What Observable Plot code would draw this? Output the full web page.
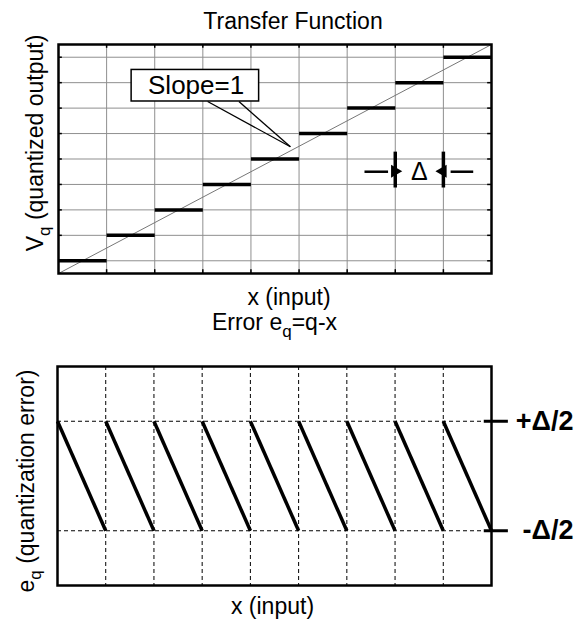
<!DOCTYPE html>
<html><head><meta charset="utf-8">
<script src="https://cdn.jsdelivr.net/npm/d3@7"></script>
<script src="https://cdn.jsdelivr.net/npm/@observablehq/plot@0.6"></script>
<style>
body{margin:0;background:#fff;}
#chart{width:576px;}
#chart svg{display:block;}
</style></head><body><div id="chart"></div>
<script>
// ---- data ----
const stepLevels = [0, 1, 2, 3, 4, 5, 6, 7, 8];      // quantized output for input interval [k, k+1]
const xGridLines = [1, 2, 3, 4, 5, 6, 7, 8];          // input grid (multiples of Δ)
const yGridLines = [0, 1, 2, 3, 4, 5, 6, 7, 8];       // output grid
const idealLine = [{x1: 0, y1: -0.5, x2: 9, y2: 8.5}]; // slope = 1 reference line
const errorLevels = [0.5, -0.5];                      // ±Δ/2
const errorLabels = ["+Δ/2", "-Δ/2"];
const slopeBox = [{x1: 1.52, x2: 4.17, y1: 6.26, y2: 7.5, cx: 2.86, cy: 6.88, label: "Slope=1"}];
const slopeCallout = [{x1: 3.1, y1: 6.26, x2: 4.82, y2: 4.48}, {x1: 3.75, y1: 6.26, x2: 4.82, y2: 4.48}];
const deltaBars = [7, 8];
const deltaArrows = [{x1: 6.36, x2: 6.85, tip: 7, rot: 90, dx: -8}, {x1: 8.62, x2: 8.15, tip: 8, rot: -90, dx: 8}];
const deltaY = 3.5;

const FONT = "'Liberation Sans', Arial, sans-serif";
const W = 576;
const FS = 23;

// ---- top: transfer function ----
const topChart = Plot.plot({
  width: W, height: 310,
  marginLeft: 58, marginRight: 85, marginTop: 44, marginBottom: 37,
  style: {fontFamily: FONT, background: "white", overflow: "visible"},
  x: {domain: [0, 9], axis: null},
  y: {domain: [-0.5, 8.5], axis: null},
  marks: [
    Plot.ruleX(xGridLines, {stroke: "#8f8f8f", strokeWidth: 1}),
    Plot.ruleY(yGridLines, {stroke: "#8f8f8f", strokeWidth: 1}),
    Plot.ruleX(xGridLines, {y1: 8.5, y2: 8.35, stroke: "black", strokeWidth: 1.5}),
    Plot.ruleX(xGridLines, {y1: -0.5, y2: -0.35, stroke: "black", strokeWidth: 1.5}),
    Plot.ruleY(yGridLines, {x1: 0, x2: 0.08, stroke: "black", strokeWidth: 1.5}),
    Plot.ruleY(yGridLines, {x1: 9, x2: 8.92, stroke: "black", strokeWidth: 1.5}),
    Plot.link(idealLine, {x1: "x1", y1: "y1", x2: "x2", y2: "y2", stroke: "#777", strokeWidth: 1}),
    Plot.link(stepLevels, {x1: d => d, x2: d => d + 1, y1: d => d, y2: d => d, stroke: "black", strokeWidth: 3.5}),
    Plot.link(slopeCallout, {x1: "x1", y1: "y1", x2: "x2", y2: "y2", stroke: "black", strokeWidth: 1.3}),
    Plot.rect(slopeBox, {x1: "x1", x2: "x2", y1: "y1", y2: "y2", fill: "white", stroke: "black", strokeWidth: 1.5}),
    Plot.text(slopeBox, {x: "cx", y: "cy", text: "label", fontSize: 26, fill: "black"}),
    Plot.ruleX(deltaBars, {y1: 2.86, y2: 4.27, stroke: "black", strokeWidth: 3.5}),
    Plot.link(deltaArrows, {x1: "x1", x2: "x2", y1: deltaY, y2: deltaY, stroke: "black", strokeWidth: 2.5}),
    Plot.dot(deltaArrows, {x: "tip", y: deltaY, symbol: "triangle", rotate: "rot", r: 4.8, fill: "black", stroke: "none", dx: "dx"}),
    Plot.text(["Δ"], {x: 7.5, y: deltaY, text: d => d, fontSize: 25, fill: "black"}),
    Plot.frame({stroke: "black", strokeWidth: 2.5}),
    Plot.text(["Transfer Function"], {frameAnchor: "top", text: d => d, fontSize: FS, lineAnchor: "bottom", dy: -16, dx: 18, fill: "black"}),
    Plot.text(["x (input)"], {frameAnchor: "bottom", text: d => d, fontSize: FS, lineAnchor: "bottom", dy: 31, dx: 14, fill: "black"}),
    Plot.text(["V_q (quantized output)"], {frameAnchor: "left", text: d => d, fontSize: FS, rotate: -90, textAnchor: "middle", lineAnchor: "bottom", dx: -16, dy: -16, fill: "black"})
  ]
});

// ---- bottom: quantization error ----
const bottomChart = Plot.plot({
  width: W, height: 309,
  marginLeft: 57, marginRight: 85, marginTop: 56, marginBottom: 34,
  style: {fontFamily: FONT, background: "white", overflow: "visible"},
  x: {domain: [0, 9], axis: null},
  y: {domain: [-1, 1], axis: null},
  marks: [
    Plot.ruleX(xGridLines, {stroke: "black", strokeWidth: 1, strokeDasharray: "4,3"}),
    Plot.ruleY(errorLevels, {stroke: "black", strokeWidth: 1, strokeDasharray: "4,3"}),
    Plot.link(stepLevels, {x1: d => d, x2: d => d + 1, y1: 0.5, y2: -0.5, stroke: "black", strokeWidth: 3.5}),
    Plot.ruleY(errorLevels, {x1: 8.85, x2: 9.35, stroke: "black", strokeWidth: 3}),
    Plot.text(errorLevels, {x: 9, y: d => d, text: (d, i) => errorLabels[i], textAnchor: "end", dx: 82, fontSize: 27, fontWeight: "bold", fill: "black"}),
    Plot.frame({stroke: "black", strokeWidth: 2.5}),
    Plot.text(["Error e_q=q-x"], {frameAnchor: "top", text: d => d, fontSize: FS, lineAnchor: "bottom", dy: -37, dx: 0, fill: "black"}),
    Plot.text(["x (input)"], {frameAnchor: "bottom", text: d => d, fontSize: FS, lineAnchor: "bottom", dy: 28, dx: -2, fill: "black"}),
    Plot.text(["e_q (quantization error)"], {frameAnchor: "left", text: d => d, fontSize: FS, rotate: -90, textAnchor: "middle", lineAnchor: "bottom", dx: -24, dy: 5, fill: "black"})
  ]
});

const host = document.getElementById("chart");
host.appendChild(topChart);
host.appendChild(bottomChart);

// render "_q" as a subscript
for (const svg of [topChart, bottomChart]) {
  d3.select(svg).selectAll("text").each(function () {
    const el = this;
    const targets = el.querySelectorAll("tspan").length ? Array.from(el.querySelectorAll("tspan")) : [el];
    for (const t of targets) {
      const s = t.textContent;
      if (!s.includes("_q")) continue;
      const [a, b] = s.split("_q");
      t.textContent = "";
      const ns = "http://www.w3.org/2000/svg";
      const t1 = document.createElementNS(ns, "tspan"); t1.textContent = a;
      const t2 = document.createElementNS(ns, "tspan"); t2.textContent = "q";
      t2.setAttribute("dy", "7"); t2.setAttribute("font-size", "17");
      const t3 = document.createElementNS(ns, "tspan"); t3.textContent = b;
      t3.setAttribute("dy", "-7");
      t.appendChild(t1); t.appendChild(t2); t.appendChild(t3);
    }
  });
}
</script></body></html>
